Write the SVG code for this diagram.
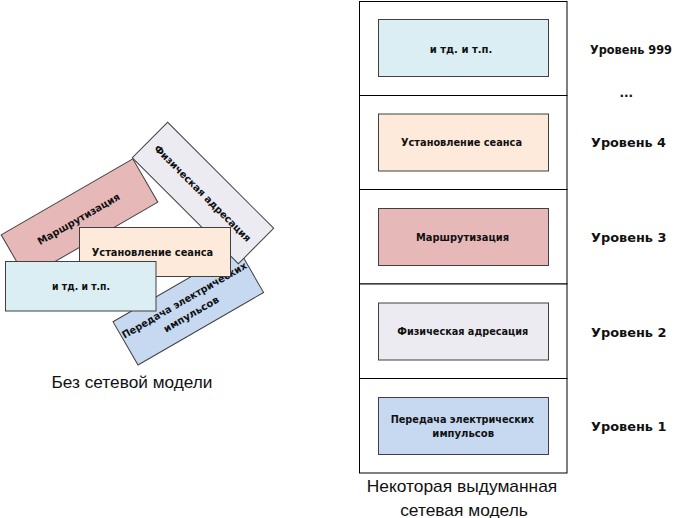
<svg xmlns="http://www.w3.org/2000/svg" width="676" height="518" viewBox="0 0 676 518">
<style>
.bx{stroke:#404040;stroke-width:1}
.lb{font-family:"DejaVu Sans",sans-serif;font-weight:bold;font-size:10px;fill:#111;text-anchor:middle}
.lv{font-family:"DejaVu Sans",sans-serif;font-weight:bold;font-size:12px;fill:#111}
.cap{font-family:"Liberation Sans",Arial,sans-serif;font-size:17px;fill:#111;text-anchor:middle}
.frame{fill:#fff;stroke:#000;stroke-width:1}
.pink{fill:#E6B9B8}.lav{fill:#ECEBF2}.peach{fill:#FDEADA}.lblue{fill:#DBEEF4}.blue{fill:#C6D9F1}
</style>
<rect width="676" height="518" fill="#fff"/>
<g id="connectors"></g>

<!-- Left: no network model -->
<g id="left-routing" transform="translate(79.5,218.5) rotate(-30)">
<rect class="bx pink" x="-76" y="-25" width="152" height="50"/>
<text class="lb" x="-1" y="3.5" textLength="93" lengthAdjust="spacingAndGlyphs">Маршрутизация</text>
</g>
<g id="left-electric" transform="translate(188.3,307.1) rotate(-30)">
<rect class="bx blue" x="-72.5" y="-25" width="145" height="50"/>
<text class="lb" x="0" y="-4.5" textLength="142" lengthAdjust="spacingAndGlyphs">Передача электрических</text>
<text class="lb" x="-1" y="11" textLength="62" lengthAdjust="spacingAndGlyphs">импульсов</text>
</g>
<g id="left-physical" transform="translate(203,193) rotate(45)">
<rect class="bx lav" x="-75" y="-25" width="150" height="50"/>
<text class="lb" x="0" y="4" textLength="132" lengthAdjust="spacingAndGlyphs">Физическая адресация</text>
</g>
<g id="left-session">
<rect class="bx peach" x="79.5" y="227.5" width="151" height="49"/>
<text class="lb" x="152.5" y="256" textLength="121.5" lengthAdjust="spacingAndGlyphs">Установление сеанса</text>
</g>
<g id="left-etc">
<rect class="bx lblue" x="5.5" y="261.5" width="150.5" height="49.5"/>
<text class="lb" x="81" y="290" textLength="58" lengthAdjust="spacingAndGlyphs">и тд.  и т.п.</text>
</g>
<text class="cap" x="132" y="388.3" textLength="161" lengthAdjust="spacingAndGlyphs">Без сетевой модели</text>

<!-- Right: layered model -->
<g id="model-frame">
<rect class="frame" x="359.5" y="1.5" width="207.5" height="94"/>
<rect class="frame" x="359.5" y="95.5" width="207.5" height="94"/>
<rect class="frame" x="359.5" y="189.5" width="207.5" height="94.5"/>
<rect class="frame" x="359.5" y="284" width="207.5" height="94.5"/>
<rect class="frame" x="359.5" y="378.5" width="207.5" height="94.5"/>
</g>
<g id="r-etc">
<rect class="bx lblue" x="378.5" y="19.5" width="170" height="57"/>
<text class="lb" x="461" y="52.5" textLength="62.7" lengthAdjust="spacingAndGlyphs">и тд.  и т.п.</text>
</g>
<g id="r-session">
<rect class="bx peach" x="378.5" y="114" width="170" height="57"/>
<text class="lb" x="461.5" y="146" textLength="121" lengthAdjust="spacingAndGlyphs">Установление сеанса</text>
</g>
<g id="r-routing">
<rect class="bx pink" x="378.5" y="208.5" width="170" height="57"/>
<text class="lb" x="462.5" y="240.8" textLength="93" lengthAdjust="spacingAndGlyphs">Маршрутизация</text>
</g>
<g id="r-physical">
<rect class="bx lav" x="378.5" y="303" width="170" height="57"/>
<text class="lb" x="462.8" y="335.3" textLength="131" lengthAdjust="spacingAndGlyphs">Физическая адресация</text>
</g>
<g id="r-electric">
<rect class="bx blue" x="378.5" y="397.5" width="170" height="57"/>
<text class="lb" x="462.3" y="422.8" textLength="143.3" lengthAdjust="spacingAndGlyphs">Передача электрических</text>
<text class="lb" x="463.2" y="436.8" textLength="61.7" lengthAdjust="spacingAndGlyphs">импульсов</text>
</g>
<g id="levels">
<text class="lv" x="590" y="54" textLength="82" lengthAdjust="spacingAndGlyphs">Уровень 999</text>
<text class="lv" x="619.5" y="97">...</text>
<text class="lv" x="591" y="146.7" textLength="75" lengthAdjust="spacingAndGlyphs">Уровень 4</text>
<text class="lv" x="591" y="241.7" textLength="75.5" lengthAdjust="spacingAndGlyphs">Уровень 3</text>
<text class="lv" x="591" y="336.7" textLength="75.5" lengthAdjust="spacingAndGlyphs">Уровень 2</text>
<text class="lv" x="591" y="430.7" textLength="75.5" lengthAdjust="spacingAndGlyphs">Уровень 1</text>
</g>
<text class="cap" x="462" y="491.5" textLength="190.6" lengthAdjust="spacingAndGlyphs">Некоторая выдуманная</text>
<text class="cap" x="464" y="515.5" textLength="127.7" lengthAdjust="spacingAndGlyphs">сетевая модель</text>
</svg>
